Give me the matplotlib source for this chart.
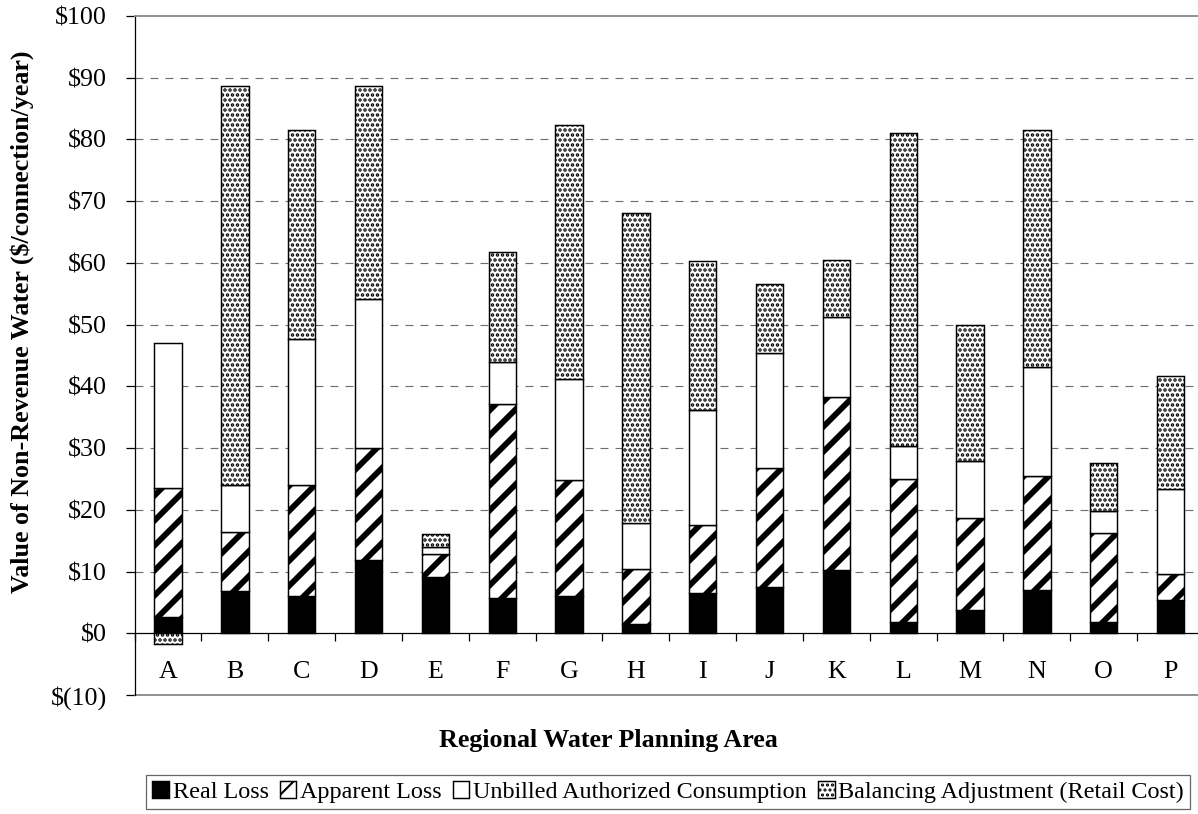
import numpy as np
import matplotlib
matplotlib.use("Agg")
import matplotlib.pyplot as plt

# values ($/connection/year)
areas = list("ABCDEFGHIJKLMNOP")
real_loss = [2.6, 6.9, 6.1, 11.8, 9.1, 5.75, 6.1, 1.5, 6.6, 7.5, 10.3, 1.8, 3.8, 7.0, 1.8, 5.4]
apparent_loss = [20.9, 9.5, 18.0, 18.2, 3.8, 31.35, 18.7, 8.9, 10.9, 19.2, 28.0, 23.2, 14.8, 18.5, 14.5, 4.2]
unbilled = [23.6, 7.7, 23.5, 24.1, 1.0, 6.9, 16.4, 7.5, 18.6, 18.7, 12.9, 5.4, 9.3, 17.6, 3.5, 13.7]
balancing = [-1.8, 64.6, 34.0, 34.5, 2.2, 17.8, 41.2, 50.2, 24.2, 11.2, 9.2, 50.6, 22.1, 38.5, 7.8, 18.4]

yticks = list(range(-10, 101, 10))

DPI = 150
plt.rcParams['font.family'] = ['Liberation Serif', 'DejaVu Serif']
plt.rcParams['lines.scale_dashes'] = False

fig = plt.figure(figsize=(1198 / DPI, 814 / DPI), dpi=DPI)
ax = fig.add_axes([134.6 / 1198, 1 - 695 / 814, (1204 - 134.6) / 1198, (695 - 16) / 814])

series = [
    ("Real Loss", real_loss, "black", "", 1.0),
    ("Apparent Loss", apparent_loss, "white", "//", 2.8),
    ("Unbilled Authorized Consumption", unbilled, "white", "", 1.0),
    ("Balancing Adjustment (Retail Cost)", balancing, "white", ".....", 1.15),
]

x = np.arange(len(areas))
pos_bottom = np.zeros(len(areas))
neg_bottom = np.zeros(len(areas))
handles = []
for name, vals, fc, hatch, hlw in series:
    vals = np.array(vals)
    bottom = np.where(vals >= 0, pos_bottom, neg_bottom)
    with plt.rc_context({'hatch.linewidth': hlw}):
        bars = ax.bar(x, vals, 0.41, bottom=bottom, color=fc, edgecolor="black",
                      linewidth=0.7, hatch=hatch, label=name, zorder=3)
        for b in bars:
            if hasattr(b, "set_hatch_linewidth"):
                b.set_hatch_linewidth(hlw)
    pos_bottom = pos_bottom + np.where(vals >= 0, vals, 0)
    neg_bottom = neg_bottom + np.where(vals < 0, vals, 0)
    handles.append(bars)

ax.set_xlim(-0.5, len(areas) - 0.5)
ax.set_ylim(-10, 100)

# dashed gridlines
for v in yticks:
    if 0 < v < 100:
        ax.axhline(v, color="#6e6e6e", linewidth=0.55, linestyle=(0, (3.8, 3.4)), zorder=1)

ax.spines['right'].set_visible(False)
ax.spines['top'].set_color("#8c8c8c")
ax.spines['top'].set_linewidth(0.9)
ax.spines['left'].set_linewidth(0.6)

# category axis sits at zero
ax.spines['bottom'].set_position(('data', 0))
ax.spines['bottom'].set_linewidth(0.6)
ax.axhline(-10, color="#8c8c8c", linewidth=0.9, zorder=2, clip_on=False)

ax.set_xticks(x)
ax.set_xticklabels(areas)
ax.set_xticks(np.arange(-0.5, len(areas), 1.0), minor=True)
ax.tick_params(axis='x', which='major', length=0, pad=13.5, labelsize=12.5)
ax.tick_params(axis='x', which='minor', length=3.8, width=0.6, direction='out')

ax.set_yticks(yticks)
ax.set_yticklabels([f"$({-v})" if v < 0 else f"${v}" for v in yticks])
ax.tick_params(axis='y', length=4.3, width=0.6, direction='out', pad=9, labelsize=12.5)

fig.text(22 / 1198, 1 - 322 / 814, "Value of Non-Revenue Water ($/connection/year)",
         rotation=90, ha='center', va='center', fontsize=12.5, fontweight='bold')
fig.text(608 / 1198, 1 - 740 / 814, "Regional Water Planning Area",
         ha='center', va='center', fontsize=12.5, fontweight='bold')

leg = fig.legend(handles=handles, loc='center', bbox_to_anchor=(668 / 1198, 1 - 792 / 814),
                 ncol=4, fontsize=11.6, frameon=True, fancybox=False,
                 handlelength=0.7, handleheight=0.7, handletextpad=0.15,
                 columnspacing=0.45, borderpad=0.25, borderaxespad=0)
leg.get_frame().set_edgecolor("#404040")
leg.get_frame().set_linewidth(0.6)

fig.savefig("out.png", dpi=DPI)
